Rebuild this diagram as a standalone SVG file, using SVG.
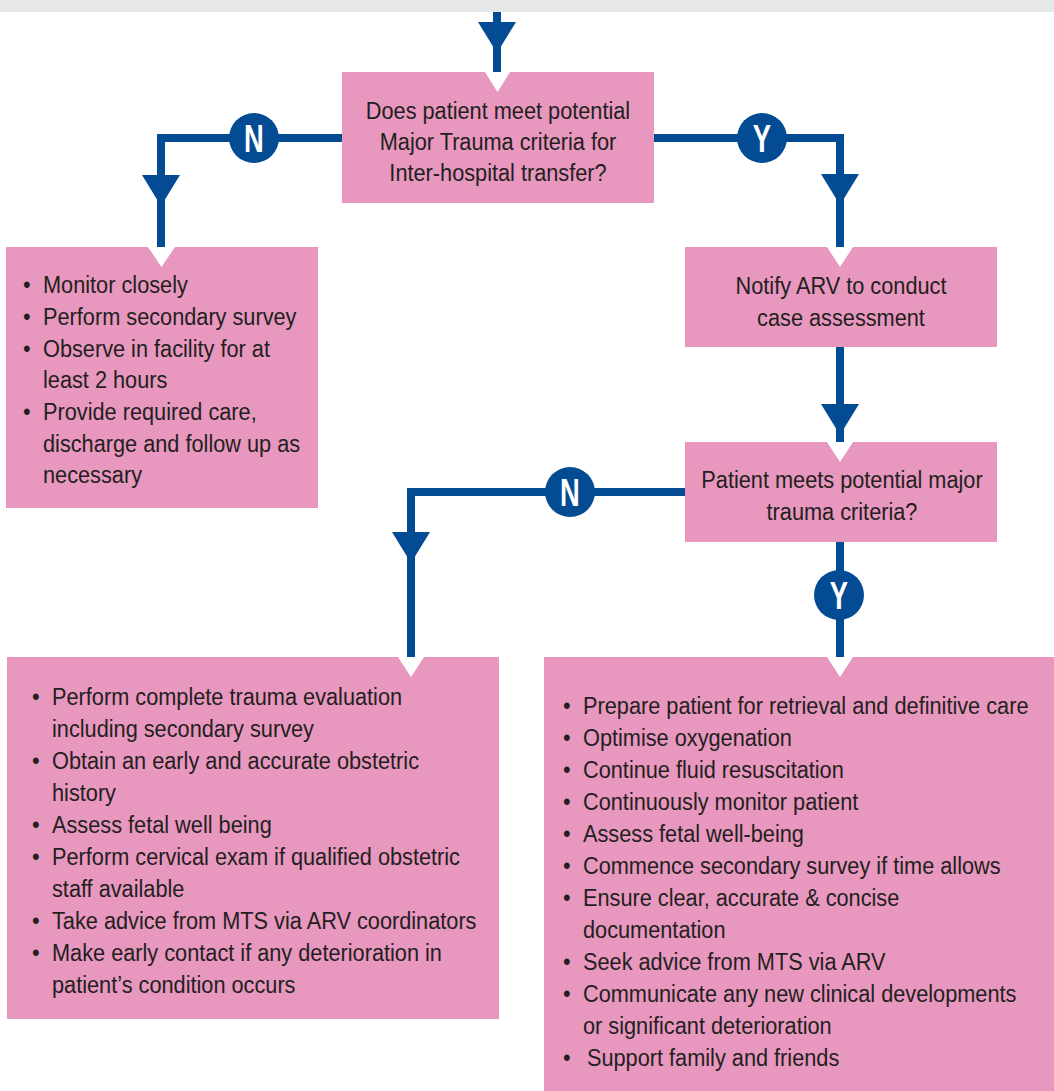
<svg xmlns="http://www.w3.org/2000/svg" xmlns:xlink="http://www.w3.org/1999/xlink" width="1054" height="1091" viewBox="0 0 1054 1091">
<style>
.box{fill:#E897BE}
.t{font-family:"Liberation Sans",Arial,sans-serif;font-size:23px;fill:#231F20}
.c{text-anchor:middle}
.ln{fill:none;stroke:#034B93;stroke-width:8;stroke-linejoin:miter;stroke-linecap:butt}
.ah{fill:#034B93}
.cir{fill:#034B93}
.lbl{font-family:"Liberation Sans",Arial,sans-serif;font-weight:bold;font-size:38px;fill:#FFFFFF;text-anchor:middle}
</style>
<defs>
<polygon id="ah" points="-19,0 19,0 0,31"/>
</defs>
<rect x="0" y="0" width="1054" height="12" fill="#E6E7E8"/>

<g id="connectors">
<path class="ln" d="M497,12 V72"/>
<path class="ln" d="M342,138 H161 V247"/>
<path class="ln" d="M654,138 H840 V247"/>
<path class="ln" d="M840,347 V442"/>
<path class="ln" d="M685,492 H411 V657"/>
<path class="ln" d="M840,542 V657"/>
<use href="#ah" class="ah" x="497" y="22"/>
<use href="#ah" class="ah" x="161" y="175"/>
<use href="#ah" class="ah" x="840" y="174"/>
<use href="#ah" class="ah" x="840" y="404"/>
<use href="#ah" class="ah" x="411" y="532"/>
<g id="lbl-n1"><circle class="cir" cx="254" cy="138" r="25"/><text class="lbl" transform="translate(254,151.5) scale(0.72,1)">N</text></g>
<g id="lbl-y1"><circle class="cir" cx="762" cy="138" r="25"/><text class="lbl" transform="translate(762,151.5) scale(0.72,1)">Y</text></g>
<g id="lbl-n2"><circle class="cir" cx="570" cy="492" r="25"/><text class="lbl" transform="translate(570,505.5) scale(0.72,1)">N</text></g>
<g id="lbl-y2"><circle class="cir" cx="839" cy="595" r="25"/><text class="lbl" transform="translate(839,608.5) scale(0.72,1)">Y</text></g>
</g>

<g id="node-q1">
<polygon class="box" points="342,72 485,72 497.5,92 510,72 654,72 654,203 342,203"/>
<g transform="translate(498,0) scale(0.945,1)">
<text class="t c" x="0" y="119">Does patient meet potential</text>
<text class="t c" x="0" y="150">Major Trauma criteria for</text>
<text class="t c" x="0" y="181">Inter-hospital transfer?</text>
</g>
</g>

<g id="node-no1">
<polygon class="box" points="6,247 148,247 161.5,267 175,247 318,247 318,508 6,508"/>
<g transform="translate(43,0) scale(0.945,1)">
<text class="t" x="-21.2" y="293">•</text><text class="t" x="0" y="293">Monitor closely</text>
<text class="t" x="-21.2" y="325">•</text><text class="t" x="0" y="325">Perform secondary survey</text>
<text class="t" x="-21.2" y="357">•</text><text class="t" x="0" y="357">Observe in facility for at</text>
<text class="t" x="0" y="388">least 2 hours</text>
<text class="t" x="-21.2" y="420">•</text><text class="t" x="0" y="420">Provide required care,</text>
<text class="t" x="0" y="452">discharge and follow up as</text>
<text class="t" x="0" y="483">necessary</text>
</g>
</g>

<g id="node-notify">
<polygon class="box" points="685,247 827,247 840,267 853,247 997,247 997,347 685,347"/>
<g transform="translate(841,0) scale(0.945,1)">
<text class="t c" x="0" y="294">Notify ARV to conduct</text>
<text class="t c" x="0" y="326">case assessment</text>
</g>
</g>

<g id="node-q2">
<polygon class="box" points="685,442 827,442 840,462 853,442 997,442 997,542 685,542"/>
<g transform="translate(842,0) scale(0.945,1)">
<text class="t c" x="0" y="488">Patient meets potential major</text>
<text class="t c" x="0" y="520">trauma criteria?</text>
</g>
</g>

<g id="node-no2">
<polygon class="box" points="7,657 398,657 411,677 424,657 499,657 499,1019 7,1019"/>
<g transform="translate(52,0) scale(0.945,1)">
<text class="t" x="-21.2" y="705">•</text><text class="t" x="0" y="705">Perform complete trauma evaluation</text>
<text class="t" x="0" y="737">including secondary survey</text>
<text class="t" x="-21.2" y="769">•</text><text class="t" x="0" y="769">Obtain an early and accurate obstetric</text>
<text class="t" x="0" y="801">history</text>
<text class="t" x="-21.2" y="833">•</text><text class="t" x="0" y="833">Assess fetal well being</text>
<text class="t" x="-21.2" y="865">•</text><text class="t" x="0" y="865">Perform cervical exam if qualified obstetric</text>
<text class="t" x="0" y="897">staff available</text>
<text class="t" x="-21.2" y="929">•</text><text class="t" x="0" y="929">Take advice from MTS via ARV coordinators</text>
<text class="t" x="-21.2" y="961">•</text><text class="t" x="0" y="961">Make early contact if any deterioration in</text>
<text class="t" x="0" y="993">patient’s condition occurs</text>
</g>
</g>

<g id="node-yes2">
<polygon class="box" points="544,657 827,657 840,677 853,657 1054,657 1054,1091 544,1091"/>
<g transform="translate(583,0) scale(0.945,1)">
<text class="t" x="-21.2" y="714">•</text><text class="t" x="0" y="714">Prepare patient for retrieval and definitive care</text>
<text class="t" x="-21.2" y="746">•</text><text class="t" x="0" y="746">Optimise oxygenation</text>
<text class="t" x="-21.2" y="778">•</text><text class="t" x="0" y="778">Continue fluid resuscitation</text>
<text class="t" x="-21.2" y="810">•</text><text class="t" x="0" y="810">Continuously monitor patient</text>
<text class="t" x="-21.2" y="842">•</text><text class="t" x="0" y="842">Assess fetal well-being</text>
<text class="t" x="-21.2" y="874">•</text><text class="t" x="0" y="874">Commence secondary survey if time allows</text>
<text class="t" x="-21.2" y="906">•</text><text class="t" x="0" y="906">Ensure clear, accurate &amp; concise</text>
<text class="t" x="0" y="938">documentation</text>
<text class="t" x="-21.2" y="970">•</text><text class="t" x="0" y="970">Seek advice from MTS via ARV</text>
<text class="t" x="-21.2" y="1002">•</text><text class="t" x="0" y="1002">Communicate any new clinical developments</text>
<text class="t" x="0" y="1034">or significant deterioration</text>
<text class="t" x="-21.2" y="1066">•</text><text class="t" x="4.2" y="1066">Support family and friends</text>
</g>
</g>
</svg>
